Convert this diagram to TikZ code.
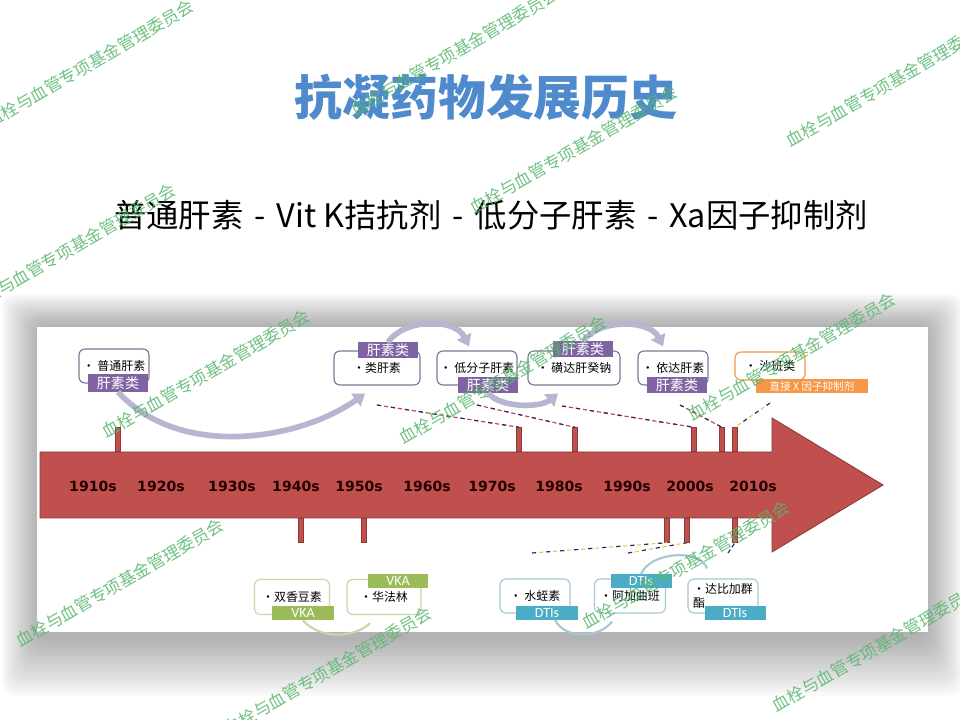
\documentclass[tikz,border=0pt]{standalone}
\usepackage{fontspec}
\setmainfont{Noto Sans CJK SC}
\newfontfamily\yearfont{DejaVu Sans}
\newfontfamily\latfont{Carlito}
\usetikzlibrary{arrows.meta}
\newcommand\strichsp{\hspace{0.34em}-\hspace{0.34em}}
\begin{document}
\begin{tikzpicture}[x=0.025cm,y=-0.025cm]
\definecolor{titleblue}{RGB}{79,138,204}
\definecolor{arrowred}{RGB}{192,80,77}
\definecolor{arrowdark}{RGB}{140,56,54}
\definecolor{hepa}{RGB}{128,100,162}
\definecolor{hepaline}{RGB}{125,120,150}
\definecolor{xaorange}{RGB}{247,150,70}
\definecolor{vkagreen}{RGB}{155,187,89}
\definecolor{vkaline}{RGB}{200,212,170}
\definecolor{dtiblue}{RGB}{75,172,198}
\definecolor{dtiline}{RGB}{165,200,212}
\definecolor{bendgray}{RGB}{182,182,208}
\definecolor{wmgreen}{RGB}{88,182,110}
\definecolor{dashred}{RGB}{200,60,60}
\definecolor{dashnavy}{RGB}{40,40,110}
\definecolor{dashyellow}{RGB}{235,200,90}
\tikzset{kasten/.style = {draw,
                          shape          = rectangle,
                          fill           = white,
                          rounded corners= 0.15cm,
                          line width     = 0.8pt,
                          inner sep      = 1pt,
                          minimum width  = 1.75cm,
                          minimum height = 0.85cm,
                          font           = \fontsize{8.5}{10}\selectfont},
         schild/.style = {shape          = rectangle,
                          text           = white,
                          inner sep      = 0pt,
                          minimum width  = 1.5cm,
                          minimum height = 0.38cm,
                          font           = \fontsize{10}{11}\selectfont},
         stift/.style  = {draw           = arrowdark,
                          fill           = arrowred,
                          line width     = 0.5pt,
                          inner sep      = 0pt,
                          minimum width  = 0.13cm,
                          minimum height = 0.6cm},
         jahr/.style   = {text = black!85!red, font = \yearfont\bfseries\fontsize{10}{12}\selectfont},
         bogen/.style  = {draw = bendgray, line width = 4pt, -{Triangle[length=8pt,width=11pt]}},
         ring/.style   = {line width = 1.5pt},
         strich/.style = {line width = 0.8pt, dash pattern = on 3pt off 2pt},
         halb/.style   = {line width = 0.8pt, dash pattern = on 3pt off 7pt},
         wm/.style     = {text = wmgreen, opacity = 0.85, rotate = 30, font = \fontsize{12}{14}\selectfont}}
\useasboundingbox (0,0) rectangle (960,720);
% shadow and panel
\foreach \i in {0,...,14}
  \fill[black,opacity=0.022,rounded corners=0.3cm] (37-2.5*\i,325-2.2*\i) rectangle (928+2.5*\i,640+4*\i);
\fill[white] (37,327) rectangle (928,632);
% headings
\node[text=titleblue,font=\fontsize{34}{40}\selectfont\bfseries] (titel) at (486,97) {抗凝药物发展历史};
\node[font=\fontsize{23}{27}\selectfont] (unter) at (491,215) {普通肝素\strichsp Vit K拮抗剂\strichsp 低分子肝素\strichsp Xa因子抑制剂};
% time arrow
\draw[fill=arrowred,draw=arrowdark,line width=0.6pt] (40,452) -- (772,452) -- (772,418) -- (883,485)
      -- (772,552) -- (772,518) -- (40,518) -- cycle;
\foreach \yr/\xx in {1910/93,1920/161,1930/232,1940/296,1950/359,1960/427,1970/492,1980/559,1990/627,2000/690,2010/753}
  \node[jahr] (y\yr) at (\xx,486) {\yr s};
\node[stift,anchor=south] (u1) at (118,452) {};
\node[stift,anchor=south] (u2) at (519,452) {};
\node[stift,anchor=south] (u3) at (575,452) {};
\node[stift,anchor=south] (u4) at (694,452) {};
\node[stift,anchor=south] (u5) at (722,452) {};
\node[stift,anchor=south] (u6) at (735,452) {};
\node[stift,anchor=north] (v1) at (301,518) {};
\node[stift,anchor=north] (v2) at (364,518) {};
\node[stift,anchor=north] (v3) at (667,518) {};
\node[stift,anchor=north] (v4) at (687,518) {};
\node[stift,anchor=north] (v5) at (735,518) {};
% heparins
\node[kasten,draw=hepaline] (box1) at (114,366) {• 普通肝素};
\node[kasten,draw=hepaline,minimum width=2.15cm] (box2) at (377,368) {•类肝素};
\node[kasten,draw=hepaline,minimum width=2cm] (box3) at (477,368) {• 低分子肝素};
\node[kasten,draw=hepaline,minimum width=2.3cm] (box4) at (574,368) {• 磺达肝癸钠};
\node[kasten,draw=hepaline] (box5) at (673,368) {• 依达肝素};
\node[kasten,draw=xaorange,minimum height=0.7cm] (box6) at (770,366) {• 沙班类};
\node[schild,fill=hepa,minimum height=0.43cm] (lab1) at (118,383) {肝素类};
\node[schild,fill=hepa] (lab2) at (388,350) {肝素类};
\node[schild,fill=hepa] (lab3) at (488,385) {肝素类};
\node[schild,fill=hepa] (lab4) at (583,349) {肝素类};
\node[schild,fill=hepa] (lab5) at (677,385) {肝素类};
\node[schild,fill=xaorange,minimum width=2.8cm,minimum height=0.33cm,font=\fontsize{7.5}{9}\selectfont] (lab6) at (812,386) {直接 X 因子抑制剂};
\draw[bogen] (lab1.south) .. controls (180,460) and (300,440) .. ([xshift=-0.3cm,yshift=-0.2cm]box2.south);
\draw[bogen] (lab2.north) .. controls (405,318) and (455,318) .. ([xshift=-0.2cm,yshift=0.1cm]box3.north);
\draw[bogen] (lab3.south) .. controls (500,408) and (540,408) .. ([xshift=-0.4cm,yshift=-0.2cm]box4.south);
\draw[bogen] (lab4.north) .. controls (600,318) and (650,320) .. ([xshift=-0.25cm,yshift=0.1cm]box5.north);
% VKA and DTIs
\node[kasten,draw=vkaline,minimum width=1.875cm,minimum height=0.875cm] (b1) at (292,597) {•双香豆素};
\node[kasten,draw=vkaline,minimum width=1.85cm,minimum height=0.875cm] (b2) at (384,597) {•华法林};
\node[schild,fill=vkagreen,minimum width=1.525cm,minimum height=0.35cm,font=\latfont\fontsize{10}{11}\selectfont] (labV1) at (303,613) {VKA};
\node[schild,fill=vkagreen,minimum height=0.35cm,font=\latfont\fontsize{10}{11}\selectfont] (labV2) at (398,581) {VKA};
\node[kasten,draw=dtiline] (c1) at (535,596) {• 水蛭素};
\node[kasten,draw=dtiline,minimum width=1.775cm] (c2) at (630,596) {•阿加曲班};
\node[kasten,draw=dtiline,align=left] (c3) at (723,596) {•达比加群\\酯\hspace{3em}};
\node[schild,fill=dtiblue,minimum width=1.525cm,minimum height=0.33cm,font=\latfont\fontsize{10}{11}\selectfont] (labD1) at (547,613) {DTIs};
\node[schild,fill=dtiblue,minimum width=1.525cm,minimum height=0.33cm,font=\latfont\fontsize{10}{11}\selectfont] (labD2) at (641,581) {DTIs};
\node[schild,fill=dtiblue,minimum width=1.525cm,minimum height=0.33cm,font=\latfont\fontsize{10}{11}\selectfont] (labD3) at (735,613) {DTIs};
\draw[ring,vkaline] (labV1.south) .. controls (320,640) and (355,638) .. ([xshift=-0.35cm,yshift=-0.2cm]b2.south);
\draw[ring,dtiline] ([xshift=0.2cm]labD1.south) .. controls (565,640) and (600,638) .. ([xshift=-0.45cm,yshift=-0.2cm]c2.south);
\draw[ring,dtiline] (labD2.north) .. controls (650,552) and (700,548) .. ([xshift=-0.4cm,yshift=0.25cm]c3.north);
% dashed leads
\coordinate (p1) at (377,405);
\coordinate (p2) at (477,405);
\coordinate (p3) at (562,406);
\coordinate (p4) at (680,405);
\coordinate (p5) at (770,403);
\coordinate (q1) at (532,553);
\coordinate (q2) at (628,553);
\coordinate (q3) at (728,553);
\draw[strich,dashred] (p1) -- (u2.north) (p2) -- (u3.north) (p3) -- (u4.north) (p4) -- (u5.north);
\draw[halb,dashnavy] (p1) -- (u2.north) (p2) -- (u3.north) (p3) -- (u4.north) (p4) -- (u5.north);
\draw[strich,dashyellow] (p5) -- (u6.north) (q1) -- (v3.south) (q2) -- (v4.south);
\draw[halb,dashnavy] (p5) -- (u6.north) (q1) -- (v3.south) (q2) -- (v4.south);
\draw[strich,dashnavy] (q3) -- (v5.south);
% watermarks
\foreach \wx/\wy [count=\k] in {90/64,455/52,574/150,72/248,890/83,206/374,503/380,792/357,120/583,686/565,328/671,876/648}
  \node[wm] (wm\k) at (\wx,\wy) {血栓与血管专项基金管理委员会};
\end{tikzpicture}
\end{document}
